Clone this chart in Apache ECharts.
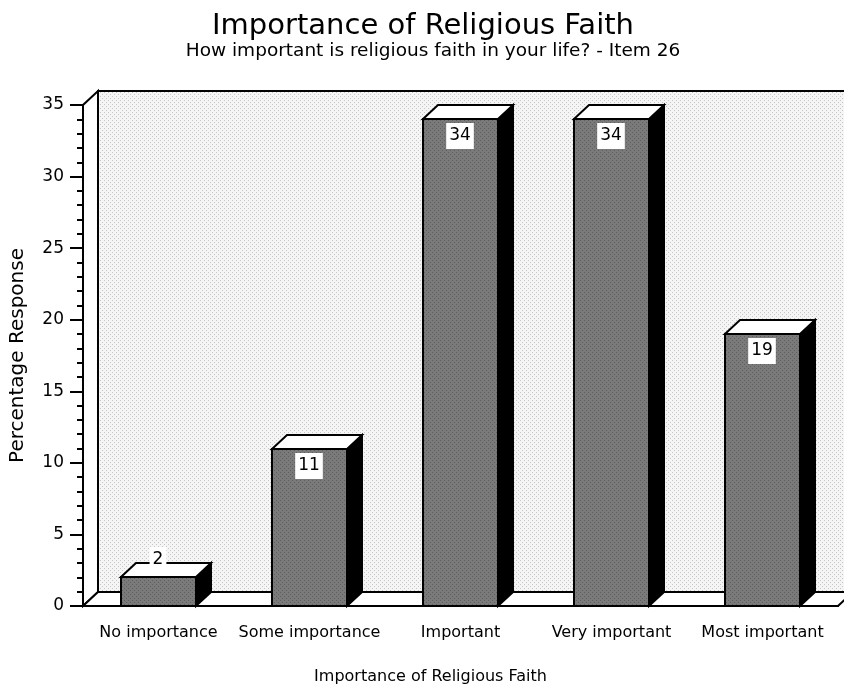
<!DOCTYPE html>
<html>
<head>
<meta charset="utf-8">
<script src="https://cdn.jsdelivr.net/npm/echarts@6/dist/echarts.min.js"></script>
<style>
  html, body { margin: 0; padding: 0; background: #fff; }
  #chart { width: 844px; height: 692px; }
</style>
</head>
<body>
<div id="chart"></div>
<script>
// Survey responses, Item 26
const categories = ['No importance', 'Some importance', 'Important', 'Very important', 'Most important'];
const responses = [2, 11, 34, 34, 19];
const yMin = 0;
const yMax = 35;
const yStep = 5;

const FONT = 'DejaVu Sans';
const DX = 15;   // depth offset of the 3D box, horizontal
const DY = 14;   // depth offset of the 3D box, vertical

// small dotted textures for the back wall and bar faces
function dotTexture(base, dot) {
  const c = document.createElement('canvas');
  c.width = 4; c.height = 4;
  const g = c.getContext('2d');
  g.fillStyle = base; g.fillRect(0, 0, 4, 4);
  g.fillStyle = dot;
  g.fillRect(0, 0, 1, 1);
  g.fillRect(2, 2, 1, 1);
  return c;
}
const wallFill = { image: dotTexture('#f5f5f5', '#c6c6c6'), repeat: 'repeat' };
const barFill = { image: dotTexture('#7a7a7a', '#5e5e5e'), repeat: 'repeat' };

const r = v => Math.round(v);

// back wall, left side wall and floor of the plot box
function renderFrame(params, api) {
  const cs = params.coordSys;
  const x0 = r(cs.x), x1 = r(cs.x + cs.width);
  const yt = r(cs.y), yb = r(cs.y + cs.height);
  const line = { stroke: '#000', lineWidth: 2 };
  return {
    type: 'group',
    children: [
      { type: 'rect', shape: { x: x0 + DX, y: yt - DY, width: cs.width + 60, height: yb - yt },
        style: Object.assign({ fill: wallFill }, line) },
      { type: 'polygon', shape: { points: [[x0, yb], [x0, yt], [x0 + DX, yt - DY], [x0 + DX, yb - DY]] },
        style: Object.assign({ fill: '#fff' }, line) },
      { type: 'polygon', shape: { points: [[x0, yb], [x0 + DX, yb - DY], [x1 + DX, yb - DY], [x1, yb]] },
        style: Object.assign({ fill: '#fff' }, line) }
    ]
  };
}

// one 3D bar with its value box
function renderBar(params, api) {
  const idx = api.value(0);
  const val = api.value(1);
  const top = api.coord([idx, val]);
  const base = api.coord([idx, 0]);
  const band = api.size([1, 0])[0];
  const w = band * 0.5;
  const xl = r(top[0] - w / 2), xr = r(top[0] + w / 2);
  const yt = r(top[1]), yb = r(base[1]);
  const line = { stroke: '#000', lineWidth: 2 };
  const inside = (yb - yt) > 40;
  const ly = inside ? yt + 17 : yt - 17;
  return {
    type: 'group',
    children: [
      { type: 'polygon', shape: { points: [[xr, yt], [xr + DX, yt - DY], [xr + DX, yb - DY], [xr, yb]] },
        style: Object.assign({ fill: '#000' }, line) },
      { type: 'rect', shape: { x: xl, y: yt, width: xr - xl, height: yb - yt },
        style: Object.assign({ fill: barFill }, line) },
      { type: 'polygon', shape: { points: [[xl, yt], [xl + DX, yt - DY], [xr + DX, yt - DY], [xr, yt]] },
        style: Object.assign({ fill: '#fff' }, line) },
      { type: 'text', x: r(top[0]) - 1, y: ly,
        style: { text: String(val), fontSize: 17, fontFamily: FONT, fill: '#000',
                 align: 'center', verticalAlign: 'middle',
                 backgroundColor: '#fff', padding: [5, 3, 4, 3] } }
    ]
  };
}

const chart = echarts.init(document.getElementById('chart'), null, { renderer: 'canvas' });
chart.setOption({
  animation: false,
  backgroundColor: '#fff',
  title: [
    { text: 'Importance of Religious Faith', left: 418, top: 7, textAlign: 'center',
      textStyle: { fontFamily: FONT, fontSize: 29, fontWeight: 'normal', color: '#000' } },
    { text: 'How important is religious faith in your life? - Item 26', left: 428, top: 37, textAlign: 'center',
      textStyle: { fontFamily: FONT, fontSize: 18.5, fontWeight: 'normal', color: '#000' } }
  ],
  grid: { left: 81, right: 6, top: 105, bottom: 86 },
  xAxis: {
    type: 'category',
    data: categories,
    boundaryGap: true,
    name: 'Importance of Religious Faith',
    nameLocation: 'middle',
    nameGap: 63,
    nameTextStyle: { fontFamily: FONT, fontSize: 16, color: '#000', padding: [0, 60, 0, 0] },
    axisLine: { lineStyle: { color: '#000', width: 2 } },
    axisTick: { length: 11, lineStyle: { color: '#000', width: 2 } },
    axisLabel: { fontFamily: FONT, fontSize: 16, color: '#000', margin: 19, interval: 0 },
    splitLine: { show: false },
    z: 5
  },
  yAxis: {
    type: 'value',
    min: yMin,
    max: yMax,
    interval: yStep,
    name: 'Percentage Response',
    nameLocation: 'middle',
    nameGap: 55,
    nameTextStyle: { fontFamily: FONT, fontSize: 20, color: '#000' },
    axisLine: { show: true, lineStyle: { color: '#000', width: 2 } },
    axisTick: { show: true, length: 13, lineStyle: { color: '#000', width: 2 } },
    minorTick: { show: true, splitNumber: 5, length: 6, lineStyle: { color: '#000', width: 2 } },
    axisLabel: { fontFamily: FONT, fontSize: 17, color: '#000', margin: 19 },
    splitLine: { show: false },
    z: 5
  },
  series: [
    { type: 'custom', name: 'frame', data: [[0, 0]], renderItem: renderFrame, clip: false, silent: true, z: 1 },
    { type: 'custom', name: 'Percentage Response',
      data: responses.map((v, i) => [i, v]),
      encode: { x: 0, y: 1 },
      renderItem: renderBar, clip: false, z: 3 }
  ]
});
</script>
</body>
</html>
